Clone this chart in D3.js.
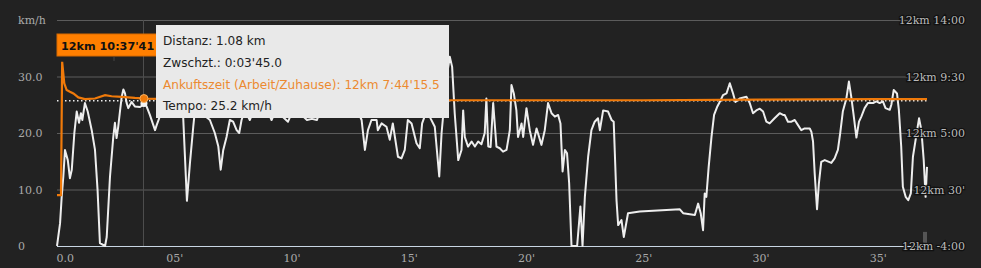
<!DOCTYPE html>
<html>
<head>
<meta charset="utf-8">
<script src="https://cdn.jsdelivr.net/npm/d3@7"></script>
<style>
  body { margin: 0; background: #222; }
  svg { display: block; }
  .ax text { font-family: "DejaVu Serif", serif; font-size: 11px; fill: #aaa; }
  .rt text { font-family: "DejaVu Serif", serif; font-size: 11px; fill: #bbb;
             stroke: #111; stroke-width: 2.5px; paint-order: stroke; }
  .tip text { font-family: "DejaVu Sans", sans-serif; font-size: 12.1px; fill: #222; }
</style>
</head>
<body>
<script>
// speed (km/h) against elapsed minutes
var minutes = [0,0.13,0.2,0.27,0.34,0.46,0.55,0.63,0.74,0.84,0.94,1.02,1.08,1.19,1.31,1.48,1.62,1.73,1.83,2.05,2.12,2.26,2.4,2.47,2.54,2.61,2.69,2.76,2.83,2.9,2.97,3.04,3.18,3.32,3.54,3.75,3.82,3.96,4.18,4.25,
  4.39,4.6,4.82,5.03,5.24,5.38,5.54,5.67,5.81,5.88,6.09,6.31,6.52,6.73,6.88,6.98,7.09,7.23,7.37,7.51,7.66,7.77,7.87,
  8.01,8.22,8.44,8.65,8.87,9.15,9.38,9.59,9.85,10.06,10.36,10.66,10.87,11.08,11.34,11.64,11.94,12.19,12.49,12.75,
  12.99,13.13,13.26,13.41,13.63,13.68,13.84,14.05,14.19,14.32,14.54,14.69,14.83,14.96,15.12,15.33,15.47,15.57,15.77,15.94,
  16.11,16.3,16.4,16.45,16.62,16.75,16.85,16.96,17.11,17.25,17.32,17.39,17.53,17.68,17.82,17.96,18.1,18.24,18.31,18.39,18.49,18.6,18.74,
  18.88,19.02,19.17,19.31,19.38,19.48,19.59,19.66,19.81,19.88,20.02,20.16,20.3,20.45,20.66,20.8,20.94,21.09,21.23,21.37,21.47,21.56,21.66,21.75,21.84,
  21.94,22.18,22.26,22.32,22.41,22.51,22.65,22.79,22.93,23.07,23.15,23.29,23.5,23.65,23.74,23.86,23.93,24.07,24.17,24.35,24.85,
  26.56,26.7,27.2,27.34,27.45,27.55,27.62,27.69,27.79,27.91,28.02,28.16,28.3,28.4,28.55,28.69,28.83,28.93,29.11,29.4,29.54,29.68,29.82,29.97,
  30.11,30.25,30.39,30.6,30.82,30.96,31.03,31.17,31.32,31.46,31.6,31.74,31.88,32.1,32.17,32.24,32.31,32.41,32.49,32.59,32.74,33.02,33.16,33.3,33.4,
  33.51,33.66,33.77,33.87,33.97,34.09,34.2,34.3,34.44,34.58,34.8,34.94,35.08,35.22,35.33,35.51,35.58,35.68,35.82,35.9,36.0,36.07,36.19,36.3,36.41,
  36.5,36.68,36.76,36.86,36.96,37.04,37.1];
var speed = [0,4,8.7,12.3,17,15.2,12,13.5,20,23.8,21.8,23.5,22.3,25.3,23.8,20.5,17,9.9,0.5,0,1.6,12.3,19.3,21.8,19.1,21.1,24,26.4,27.7,27,25.3,24.4,25.5,24.7,24.6,25.2,24.7,23.2,20.5,21.4,
  23,24.5,23.5,25,23.5,22.9,8,14.7,21.1,24,25,23,22.3,20,17.6,13.5,17,19.3,22.3,22,20.5,20,22.3,
  24,22.3,24.5,23,25,22.3,24.5,23,22,24,23.5,22.3,22.5,22.3,25,24,23,25,23.5,24.5,
  22.3,17,20.5,22.3,22.3,20.5,21.7,21.1,18.8,21.7,15.8,15.5,17,22.3,21.7,18.2,17.3,21.7,24,22.5,
  21.1,12.3,20,22.3,30,33.5,31.7,23.5,15.2,17,24,19.3,17.6,18.5,17.6,18.5,18,20,26.1,17.6,17.5,25.3,17.6,
  17.3,16.7,17,20.5,28.5,27,24,19.3,21.7,19.3,24.4,20.5,17.9,20.8,17.9,20.5,25.3,23.5,22.9,23.2,21.7,13.2,17,16.4,11.1,
  0,0,4,7,0,8.7,15.8,20.5,22,22.6,20.5,24,23.8,22.3,22,8.1,3.7,4.6,1.6,5.8,6.1,
  6.5,5.8,5.5,7.5,5.8,2.8,9.3,8.7,14,19.3,23.2,24.7,25.8,26.7,27,28.8,27,25.5,26.1,26.4,25.3,23.5,24,24.3,
  23.8,22,21.7,22.6,23.5,23.2,23.2,22,22,22.3,21.4,20.5,20.8,20.8,20.2,18.5,12.9,6.5,11.1,14.9,15.2,14.7,15.5,17,20,
  23.8,26.1,29.1,26.4,23.2,19.2,22,22.9,24.4,25.3,25.3,25.6,25.3,25.6,24.4,24.1,25,27.6,27,24.1,17.6,10.5,8.7,8.1,9.3,
  15.8,20.5,22.6,20.5,15.2,8.7,14];

// arrival-time projection line, drawn on the speed scale
var projMinutes = [0,0.17,0.22,0.31,0.41,0.55,0.7,0.91,1.19,1.62,2.05,2.33,2.76,3.32,3.75,5,8,12,16,20,25,30,35,37.1];
var projSpeed   = [9,9,32.6,28.8,27.6,27.3,27,26.3,26,26.1,26.7,26.5,26.4,26.2,26.1,26,25.9,25.9,25.8,25.8,25.8,25.9,26,26];
var avgSpeed = 25.7;

var speedTicks = [0, 10, 20, 30, 40];
var speedLabels = ["0", "10.0", "20.0", "30.0", "km/h"];
var timeLabels = ["12km -4:00", "12km 30'", "12km 5:00", "12km 9:30", "12km 14:00"];
var minuteTicks = [0, 5, 10, 15, 20, 25, 30, 35];
var minuteLabels = ["0.0", "05'", "10'", "15'", "20'", "25'", "30'", "35'"];

var tipLines = ["Distanz: 1.08 km", "Zwschzt.: 0:03'45.0",
                "Ankuftszeit (Arbeit/Zuhause): 12km 7:44'15.5", "Tempo: 25.2 km/h"];
var hover = { minute: 3.75, speed: 25.2, proj: 26.1 };
var flagText = "12km 10:37'41";

var width = 981, height = 268;
var orange = "#f07a0a";

var x = d3.scaleLinear().domain([0, 37.1]).range([57, 927]);
var y = d3.scaleLinear().domain([0, 40]).range([246, 20]);

var svg = d3.select("body").append("svg")
  .attr("width", width)
  .attr("height", height);

svg.append("rect").attr("width", width).attr("height", height).attr("fill", "#222");

// horizontal grid
svg.append("g").selectAll("line")
  .data(speedTicks)
  .enter()
  .append("line")
  .attr("x1", 57).attr("x2", 927)
  .attr("y1", function(d) { return y(d) + 0.5; })
  .attr("y2", function(d) { return y(d) + 0.5; })
  .attr("stroke", function(d) { return d == 0 ? "#c9d6e3" : "#5c5c5c"; })
  .attr("stroke-width", 1);

// crosshair
svg.append("line")
  .attr("x1", Math.round(x(hover.minute)) - 1.5).attr("x2", Math.round(x(hover.minute)) - 1.5)
  .attr("y1", y(40)).attr("y2", y(0))
  .attr("stroke", "#4d4d4d");

// left labels
var left = svg.append("g").attr("class", "ax");
left.selectAll("text")
  .data(speedTicks)
  .enter()
  .append("text")
  .attr("x", 18)
  .attr("y", function(d) { return y(d) + 4; })
  .text(function(d, i) { return speedLabels[i]; });

// bottom labels
var xAxis = d3.axisBottom(x).tickValues(minuteTicks).tickSize(0)
  .tickFormat(function(d, i) { return minuteLabels[i]; });
var gx = svg.append("g").attr("class", "ax")
  .attr("transform", "translate(0,251)")
  .call(xAxis);
gx.select(".domain").remove();
gx.selectAll("text").attr("dy", "0.71em");
gx.selectAll(".tick").filter(function(d) { return d == 0; })
  .select("text").attr("text-anchor", "start").attr("dx", -1);

// small marker at the end
svg.append("rect")
  .attr("x", x(37.1) - 4).attr("y", y(2.5))
  .attr("width", 4).attr("height", y(0) - y(2.5))
  .attr("fill", "#555");

// average dotted line
svg.append("line")
  .attr("x1", 57).attr("x2", x(37.1))
  .attr("y1", y(avgSpeed)).attr("y2", y(avgSpeed))
  .attr("stroke", "#eee")
  .attr("stroke-width", 1.5)
  .attr("stroke-dasharray", "1.5,2.5");

var line = d3.line()
  .x(function(d) { return x(d[0]); })
  .y(function(d) { return y(d[1]); });

svg.append("path")
  .datum(d3.zip(minutes, speed))
  .attr("d", line)
  .attr("fill", "none")
  .attr("stroke", "#eee")
  .attr("stroke-width", 2)
  .attr("stroke-linejoin", "round");

svg.append("path")
  .datum(d3.zip(projMinutes, projSpeed))
  .attr("d", line)
  .attr("fill", "none")
  .attr("stroke", orange)
  .attr("stroke-width", 2.2);

// right time labels
var right = svg.append("g").attr("class", "rt");
right.selectAll("text")
  .data(speedTicks)
  .enter()
  .append("text")
  .attr("x", 965)
  .attr("y", function(d) { return y(d) + 4; })
  .attr("text-anchor", "end")
  .text(function(d, i) { return timeLabels[i]; });

// hover markers
svg.append("circle")
  .attr("cx", x(hover.minute) - 1).attr("cy", y(hover.speed))
  .attr("r", 3.5).attr("fill", "#f4f4f4");
svg.append("circle")
  .attr("cx", x(hover.minute) - 1).attr("cy", y(hover.proj))
  .attr("r", 4).attr("fill", orange).attr("stroke", "#f7b060").attr("stroke-width", 1);

// orange flag
svg.append("rect")
  .attr("x", 57).attr("y", 34).attr("width", 104).attr("height", 22)
  .attr("fill", "#ff7f00").attr("stroke", "#d86a00");
svg.append("rect")
  .attr("x", 113).attr("y", 57).attr("width", 2).attr("height", 4).attr("fill", "#333");
svg.append("text")
  .attr("x", 61).attr("y", 49.5)
  .attr("font-family", "DejaVu Sans, sans-serif")
  .attr("font-weight", "bold")
  .attr("font-size", "11.2px")
  .attr("fill", "#111")
  .text(flagText);

// tooltip
var tip = svg.append("g").attr("class", "tip");
tip.append("rect")
  .attr("x", 156).attr("y", 25).attr("width", 293).attr("height", 93)
  .attr("fill", "#e9e9e9");
tip.selectAll("text")
  .data(tipLines)
  .enter()
  .append("text")
  .attr("x", 163)
  .attr("y", function(d, i) { return 45 + i * 21.8; })
  .style("fill", function(d, i) { return i == 2 ? "#ec8a30" : "#222"; })
  .text(function(d) { return d; });
</script>
</body>
</html>
